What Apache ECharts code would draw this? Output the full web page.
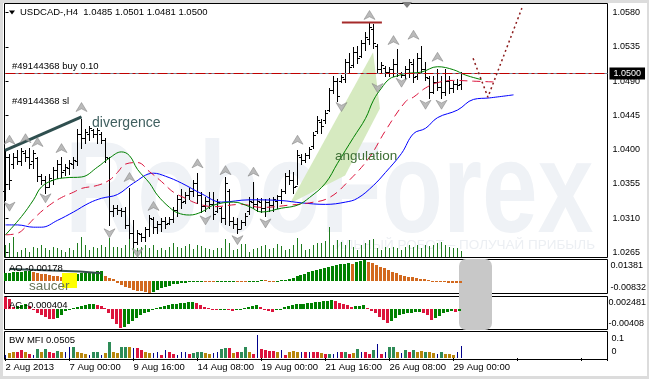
<!DOCTYPE html>
<html><head><meta charset="utf-8">
<script src="https://cdn.jsdelivr.net/npm/echarts@6/dist/echarts.min.js"></script>
<style>html,body{margin:0;padding:0;background:#fff;}#c{width:649px;height:379px;}</style>
</head><body><div id="c"></div>
<script>
// ---------- DATA ----------
const timeLabels = ['2 Aug 2013','7 Aug 00:00','9 Aug 16:00','14 Aug 08:00','19 Aug 00:00','21 Aug 16:00','26 Aug 08:00','29 Aug 00:00'];

const opens = [
1.0345,1.0390,1.0380,1.0390,1.0385,1.0395,1.0390,1.0385,1.0388,1.0365,
1.0360,1.0350,1.0360,1.0372,1.0380,1.0372,1.0375,1.0380,1.0385,1.0420,
1.0415,1.0420,1.0425,1.0420,1.0420,1.0412,1.0388,1.0318,1.0322,1.0320,
1.0318,1.0300,1.0290,1.0278,1.0288,1.0284,1.0295,1.0308,1.0298,1.0302,
1.0306,1.0303,1.0308,1.0320,1.0335,1.0332,1.0340,1.0345,1.0355,1.0340,
1.0325,1.0332,1.0328,1.0318,1.0322,1.0310,1.0345,1.0305,1.0302,1.0295,
1.0304,1.0318,1.0330,1.0328,1.0330,1.0322,1.0330,1.0326,1.0332,1.0338,
1.0345,1.0365,1.0360,1.0352,1.0390,1.0386,1.0392,1.0404,1.0424,1.0436,
1.0438,1.0452,1.0478,1.0490,1.0490,1.0492,1.0515,1.0510,1.0528,1.0522,
1.0540,1.0545,1.0558,1.0536,1.0505,1.0506,1.0502,1.0505,1.0512,1.0500,
1.0498,1.0505,1.0512,1.0496,1.0520,1.0505,1.0494,1.0475,1.0488,1.0482,
1.0475,1.0490,1.0480,1.0486,1.0485];
const highs = [
1.0399,1.0393,1.0395,1.0399,1.0402,1.0399,1.0402,1.0399,1.0389,1.0367,
1.0364,1.0367,1.0377,1.0386,1.0389,1.0380,1.0386,1.0389,1.0426,1.0439,
1.0426,1.0430,1.0426,1.0428,1.0422,1.0415,1.0389,1.0327,1.0327,1.0323,
1.0324,1.0349,1.0307,1.0294,1.0290,1.0297,1.0314,1.0311,1.0305,1.0310,
1.0311,1.0311,1.0324,1.0340,1.0347,1.0343,1.0349,1.0360,1.0369,1.0343,
1.0337,1.0343,1.0343,1.0334,1.0324,1.0363,1.0347,1.0311,1.0310,1.0307,
1.0316,1.0337,1.0357,1.0336,1.0336,1.0334,1.0336,1.0337,1.0340,1.0347,
1.0369,1.0373,1.0370,1.0399,1.0393,1.0395,1.0403,1.0422,1.0443,1.0439,
1.0452,1.0481,1.0496,1.0494,1.0498,1.0518,1.0527,1.0534,1.0535,1.0544,
1.0554,1.0567,1.0564,1.0538,1.0515,1.0509,1.0508,1.0518,1.0531,1.0502,
1.0509,1.0518,1.0518,1.0527,1.0535,1.0515,1.0496,1.0496,1.0505,1.0496,
1.0505,1.0496,1.0489,1.0492,1.0501];
const lows = [
1.0334,1.0349,1.0377,1.0382,1.0380,1.0386,1.0376,1.0377,1.0360,1.0356,
1.0344,1.0351,1.0356,1.0363,1.0364,1.0367,1.0369,1.0377,1.0380,1.0403,
1.0409,1.0413,1.0417,1.0410,1.0409,1.0384,1.0301,1.0314,1.0316,1.0314,
1.0297,1.0285,1.0272,1.0277,1.0281,1.0281,1.0287,1.0291,1.0291,1.0294,
1.0298,1.0303,1.0305,1.0314,1.0324,1.0330,1.0336,1.0340,1.0331,1.0318,
1.0320,1.0324,1.0310,1.0318,1.0305,1.0303,1.0301,1.0298,1.0291,1.0297,
1.0301,1.0316,1.0324,1.0320,1.0318,1.0314,1.0320,1.0320,1.0324,1.0330,
1.0343,1.0356,1.0343,1.0356,1.0382,1.0384,1.0390,1.0403,1.0422,1.0423,
1.0436,1.0452,1.0475,1.0465,1.0489,1.0489,1.0502,1.0509,1.0515,1.0522,
1.0531,1.0540,1.0534,1.0501,1.0501,1.0498,1.0498,1.0498,1.0498,1.0496,
1.0494,1.0496,1.0489,1.0494,1.0501,1.0492,1.0469,1.0475,1.0479,1.0469,
1.0472,1.0475,1.0476,1.0481,1.0481];
const closes = [
1.0390,1.0360,1.0390,1.0385,1.0398,1.0390,1.0380,1.0395,1.0365,1.0360,
1.0350,1.0362,1.0372,1.0380,1.0370,1.0376,1.0382,1.0386,1.0420,1.0415,
1.0422,1.0428,1.0420,1.0425,1.0412,1.0390,1.0318,1.0322,1.0320,1.0318,
1.0300,1.0290,1.0278,1.0290,1.0284,1.0295,1.0310,1.0298,1.0302,1.0306,
1.0302,1.0308,1.0320,1.0335,1.0330,1.0340,1.0345,1.0355,1.0340,1.0325,
1.0332,1.0328,1.0315,1.0330,1.0310,1.0355,1.0305,1.0302,1.0295,1.0304,
1.0312,1.0332,1.0328,1.0332,1.0322,1.0330,1.0326,1.0334,1.0338,1.0345,
1.0365,1.0360,1.0350,1.0392,1.0386,1.0392,1.0400,1.0418,1.0438,1.0430,
1.0448,1.0478,1.0490,1.0470,1.0495,1.0515,1.0508,1.0528,1.0520,1.0540,
1.0548,1.0560,1.0540,1.0505,1.0510,1.0502,1.0505,1.0512,1.0500,1.0498,
1.0505,1.0515,1.0495,1.0520,1.0505,1.0495,1.0475,1.0488,1.0482,1.0475,
1.0490,1.0480,1.0486,1.0484,1.0500];

const volumes = [
1200,1400,2000,500,700,900,500,1000,900,1200,
900,700,1000,900,700,500,900,700,1400,2000,
1200,700,1000,900,1200,1000,1900,1000,1000,900,
1200,1800,1100,900,1000,1200,900,1200,700,900,
700,1000,1400,1000,900,1100,1300,
800,1200,1100,900,800,700,900,900,
1800,
1400,700,800,1300,1300,500,800,
900,
1100,1200,800,900,1300,1100,700,800,1200,
1900,
1300,700,800,1200,1400,1400,1600,
3000,
1200,1700,1500,1200,1700,1000,700,1200,1400,1700,1800,900,700,1000,900,1000,900,700,1000,1200,1000,1200,900,1200,1100,1200,1400,1500,1200,1000,900,900,600];

// Alligator lines: [bar index, price]
const jawLine = [[0,1.0301],[3,1.0301],[7,1.0298],[9,1.0298],[13,1.0307],[17,1.0318],[21,1.0330],[24,1.0336],[28,1.0341],[32,1.0356],[37,1.0369],[40,1.0365],[44,1.0356],[49,1.0342],[54,1.0331],[61,1.0334],[69,1.0333],[74,1.0330],[80,1.0328],[85,1.0331],[88,1.0336],[92,1.0353],[95,1.0370],[99,1.0395],[102,1.0421],[105,1.0428],[108,1.0442],[113,1.0452],[117,1.0466],[121,1.0468],[127,1.0472]];
const teethLine = [[0,1.0288],[3,1.0290],[5,1.0298],[8,1.0314],[11,1.0327],[14,1.0337],[17,1.0344],[19,1.0349],[23,1.0353],[26,1.0360],[28,1.0370],[30,1.0381],[33,1.0383],[36,1.0371],[39,1.0358],[42,1.0344],[45,1.0336],[48,1.0329],[52,1.0325],[59,1.0328],[64,1.0324],[71,1.0327],[76,1.0330],[81,1.0337],[86,1.0360],[91,1.0390],[95,1.0425],[100,1.0463],[102,1.0469],[105,1.0481],[108,1.0488],[112,1.0491],[117,1.0490],[122,1.0489]];
const lipsLine = [[0,1.0288],[4,1.0312],[7,1.0334],[9,1.0351],[12,1.0360],[15,1.0363],[19,1.0364],[23,1.0377],[26,1.0389],[29,1.0397],[31,1.0392],[33,1.0374],[36,1.0356],[38,1.0340],[41,1.0324],[43,1.0317],[46,1.0314],[49,1.0318],[52,1.0327],[57,1.0331],[61,1.0325],[64,1.0318],[69,1.0323],[73,1.0327],[76,1.0337],[80,1.0356],[83,1.0382],[87,1.0416],[90,1.0441],[92,1.0465],[94,1.0481],[96,1.0493],[98,1.0497],[100,1.0500],[104,1.0502],[108,1.0509],[112,1.0505],[115,1.0498],[119,1.0492]];

// Fractals: [bar index, price of arrow]
const fractalsUp = [[1,1.0413],[5,1.0415],[8,1.0410],[14,1.0402],[19,1.0456],[31,1.0364],[37,1.0326],[48,1.0382],[55,1.0373],[62,1.0371],[73,1.0413],[91,1.0577],[97,1.0544],[102,1.0551],[108,1.0522]];
const fractalsDown = [[1,1.0325],[10,1.0336],[26,1.0290],[33,1.0264],[50,1.0307],[58,1.0281],[65,1.0303],[84,1.0456],[93,1.0481],[99,1.0488],[105,1.0459],[109,1.0459]];

// Order lines and annotations (prices)
const bidPrice = 1.0500, buyPrice = 1.0502, slPrice = 1.0454;
const priceAxis = {min:1.0265, max:1.0580, step:0.0045};
const divergenceLine = [[-0.1,1.0399],[19,1.0443]];
const highMarkLine = [[84.1,1.0567],[94.1,1.0567]];
const forecastLine = [[116.9,1.0520],[120.6,1.0469],[129.1,1.0586]];
const angulationZone = [[71.1,1.0329],[91.9,1.0528],[93.6,1.0454],[84.9,1.0366]];

const aoValues = [
0.0052,0.0054,0.0056,0.0058,0.0060,0.0061,0.0062,0.0057,0.0052,0.0047,
0.0042,0.0038,0.0034,0.0030,0.0027,0.0029,0.0033,0.0038,0.0043,0.0048,
0.0052,0.0056,0.0059,0.0062,0.0064,0.0033,0.0019,0.0008,-0.0018,-0.0030,
-0.0041,-0.0052,-0.0060,-0.0067,-0.0073,-0.0078,-0.0083,-0.0074,-0.0063,-0.0052,
-0.0043,-0.0034,-0.0025,-0.0021,-0.0016,-0.0014,-0.0011,-0.0009,-0.0007,-0.0006,
-0.0008,-0.0010,-0.0011,-0.0009,-0.0007,-0.0005,-0.0003,-0.0002,-0.0004,-0.0005,
-0.0006,-0.0004,-0.0002,0.0000,0.0002,0.0001,-0.0001,-0.0002,0.0000,0.0003,
0.0007,0.0011,0.0019,0.0029,0.0038,0.0046,0.0056,0.0064,0.0071,0.0078,
0.0084,0.0091,0.0098,0.0105,0.0109,0.0113,0.0116,0.0114,0.0125,0.0133,
0.0138,0.0128,0.0118,0.0106,0.0094,0.0083,0.0071,0.0060,0.0049,0.0040,
0.0033,0.0027,0.0022,0.0018,0.0014,0.0009,0.0004,-0.0001,-0.0005,-0.0008,
-0.0011,-0.0013,-0.0015,-0.0017,-0.0018];
const aoTicks = [0.01381, 0, -0.00832];
const aoTickLabels = ['0.01381','0.00','-0.00832'];
const aoDivergence = [[1,0.0078],[18.6,0.0061],[24,0.0050]];

const acValues = [
0.0024,0.0021,0.0004,0.0006,0.0008,0.0009,0.0005,-0.0002,-0.0009,-0.0014,
-0.0018,-0.0021,-0.0022,-0.0019,-0.0014,-0.0004,0.0000,0.0002,0.0004,0.0006,
0.0008,0.0010,0.0011,0.0008,0.0005,0.0002,-0.0008,-0.0022,-0.0033,-0.0040,
-0.0038,-0.0032,-0.0025,-0.0019,-0.0014,-0.0010,-0.0006,-0.0003,0.0001,0.0004,
0.0006,0.0008,0.0010,0.0011,0.0012,0.0013,0.0014,0.0015,0.0012,0.0008,
0.0004,0.0002,-0.0001,-0.0003,-0.0001,0.0000,-0.0002,-0.0004,-0.0002,-0.0001,
0.0001,0.0003,0.0006,0.0008,0.0004,0.0000,-0.0004,-0.0006,-0.0003,0.0000,
0.0004,0.0006,0.0008,0.0009,0.0010,0.0011,0.0012,0.0013,0.0014,0.0015,
0.0016,0.0017,0.0018,0.0016,0.0013,0.0010,0.0007,0.0004,0.0005,0.0006,
0.0007,0.0001,-0.0004,-0.0010,-0.0017,-0.0024,-0.0030,-0.0025,-0.0019,-0.0014,
-0.0011,-0.0009,-0.0008,-0.0007,-0.0006,-0.0008,-0.0014,-0.0024,-0.0020,-0.0015,
-0.0010,-0.0007,-0.0005,-0.0007,-0.0004];
const acTicks = [0.002481, 0, -0.00408];
const acTickLabels = ['0.002481','0.00','-0.00408'];

const mfiValues = [
0.012,0.019,0.023,0.023,0.033,0.023,0.016,0.012,0.036,0.023,
0.036,0.023,0.019,0.030,0.023,0.023,0.045,0.046,0.023,0.019,
0.016,0.012,0.023,0.026,0.012,0.019,0.064,0.023,0.019,0.046,
0.046,0.046,0.040,0.040,0.033,0.023,0.019,0.019,0.023,0.012,
0.033,0.026,0.015,0.012,0.023,0.023,0.015,0.019,0.023,0.026,
0.019,0.016,0.019,0.026,0.037,0.040,0.040,0.019,0.023,0.026,
0.046,0.026,0.015,0.094,0.037,0.033,0.030,0.030,0.026,0.033,
0.012,0.026,0.029,0.023,0.023,0.026,0.023,0.023,0.023,0.019,
0.016,0.016,0.016,0.026,0.023,0.023,0.015,0.019,0.037,0.026,
0.023,0.016,0.033,0.056,0.016,0.023,0.046,0.044,0.023,0.019,
0.033,0.023,0.033,0.026,0.029,0.026,0.023,0.019,0.016,0.023,
0.016,0.016,0.014,0.023,0.0505];
// bar kinds: g = green, f = fade, k = fake, s = squat
const mfiKinds = [
'kffssfskgf','gssgfkkgff','fkggkfgffg','gfkssffkks','ksskkksggg','ffkkggsfsg',
'gfskssssfk','sfffkskssf','sgkksgsfgk','ssgkskggfk','gsgffgffkg','fffkk'].join('');
const mfiTicks = [0.1, 0];
const mfiTickLabels = ['0.1','0'];

// ---------- CHART ----------
const FONT = "'Liberation Sans', Arial, sans-serif";
const chart = echarts.init(document.getElementById('c'), null, {renderer:'canvas'});
const XMIN = 0, XMAX = 150.5;
const gridDefs = [
  {top:12.7, height:239.6}, {top:225, height:32}, {top:260, height:33}, {top:297, height:31}, {top:332, height:26}
];
const grid = gridDefs.map(g => ({left:5.5, right:41.5, top:g.top, height:g.height, containLabel:false, show:false}));

const xAxis = gridDefs.map((g, k) => ({
  type:'value', gridIndex:k, min:XMIN, max:XMAX, interval:16, show: k === 4,
  axisLine:{show:false}, splitLine:{show:false},
  axisTick:{show:true, length:3, lineStyle:{color:'#000'}},
  axisLabel:{show:true, margin:4, align:'left', fontSize:9.5, fontFamily:FONT, color:'#000', showMinLabel:true, showMaxLabel:true,
    formatter: v => { const q = v / 16; const r = Math.round(q); return (Math.abs(q - r) < 1e-6 && r < timeLabels.length) ? timeLabels[r] : ''; }}
}));

function richFor(topPad, botPad) {
  const base = {fontSize:9, fontFamily:FONT, color:'#000'};
  return {t:Object.assign({padding:[topPad,0,0,0]}, base), b:Object.assign({padding:[0,0,botPad,0]}, base), m:Object.assign({}, base)};
}
function subFormatter(ticks, labels) {
  return v => {
    for (let j = 0; j < ticks.length; j++) {
      if (Math.abs(v - ticks[j]) < 1e-7) {
        const key = j === 0 ? 't' : (j === ticks.length - 1 ? 'b' : 'm');
        return '{' + key + '|' + labels[j] + '}';
      }
    }
    return '';
  };
}
const yAxis = [
  {type:'value', gridIndex:0, position:'right', min:priceAxis.min, max:priceAxis.max, interval:priceAxis.step,
   axisLine:{show:false}, splitLine:{show:false}, axisTick:{show:true, length:3, lineStyle:{color:'#000'}},
   axisLabel:{margin:5, fontSize:9, fontFamily:FONT, color:'#000', showMinLabel:true, showMaxLabel:true, formatter:v => v.toFixed(4)}},
  {type:'value', gridIndex:1, min:0, max:3200, show:false},
  {type:'value', gridIndex:2, position:'right', min:-0.00832, max:0.01381, interval:0.00832,
   axisLine:{show:false}, splitLine:{show:false}, axisTick:{show:false},
   axisLabel:{margin:4, showMinLabel:true, showMaxLabel:true, formatter:subFormatter(aoTicks, aoTickLabels), rich:richFor(12, 11)}},
  {type:'value', gridIndex:3, position:'right', min:-0.00408, max:0.002481, interval:0.00408,
   axisLine:{show:false}, splitLine:{show:false}, axisTick:{show:false},
   axisLabel:{margin:4, showMinLabel:true, showMaxLabel:true, formatter:subFormatter(acTicks, acTickLabels), rich:richFor(12, 9)}},
  {type:'value', gridIndex:4, position:'right', min:0, max:0.1066, interval:0.1,
   axisLine:{show:false}, splitLine:{show:false}, axisTick:{show:false},
   axisLabel:{margin:4, showMinLabel:true, showMaxLabel:true, formatter:subFormatter(mfiTicks, mfiTickLabels), rich:richFor(9, 12)}}
];

const crisp = v => Math.round(v - 0.5) + 0.5;

function renderOHLC(params, api) {
  const i = api.value(0);
  const pO = api.coord([i, api.value(1)]), pH = api.coord([i, api.value(2)]);
  const pL = api.coord([i, api.value(3)]), pC = api.coord([i, api.value(4)]);
  const x = crisp(pO[0]);
  const yo = crisp(pO[1]), yc = crisp(pC[1]);
  const st = {stroke:'#000', lineWidth:1};
  return {type:'group', children:[
    {type:'line', shape:{x1:x, y1:Math.floor(pH[1]), x2:x, y2:Math.ceil(pL[1]) + 1}, style:st},
    {type:'line', shape:{x1:x - 2.5, y1:yo, x2:x, y2:yo}, style:st},
    {type:'line', shape:{x1:x, y1:yc, x2:x + 2.5, y2:yc}, style:st}
  ]};
}
function renderVolume(params, api) {
  const i = api.value(0);
  const p0 = api.coord([i, 0]), p1 = api.coord([i, api.value(1)]);
  const x = crisp(p0[0]);
  return {type:'line', shape:{x1:x, y1:p0[1], x2:x, y2:Math.round(p1[1])}, style:{stroke:'#1e7b1e', lineWidth:1}};
}
function histRenderer(values, upColor, downColor) {
  return function(params, api) {
    const idx = params.dataIndex;
    const i = api.value(0), v = api.value(1);
    const ref = idx > 0 ? values[idx - 1] : null;
    const up = ref === null ? values[1] > values[0] : v > ref;
    const p0 = api.coord([i, 0]), p1 = api.coord([i, v]);
    const x = Math.round(p0[0] - 1.5);
    const y0 = Math.round(p0[1]), y1 = Math.round(p1[1]);
    const top = Math.min(y0, y1), h = Math.max(1, Math.abs(y0 - y1));
    return {type:'rect', shape:{x:x, y:top, width:3, height:h}, style:{fill: up ? upColor : downColor}};
  };
}
const mfiColors = {g:'#2e8b57', f:'#b8860b', s:'#dc143c', k:'#00008b'};
function renderMFI(params, api) {
  const idx = params.dataIndex;
  const i = api.value(0), v = api.value(1);
  const kind = mfiKinds[idx];
  const p0 = api.coord([i, 0]), p1 = api.coord([i, v]);
  const y0 = Math.round(p0[1]), y1 = Math.round(p1[1]);
  if (kind === 'k') {
    const x = crisp(p0[0]);
    return {type:'line', shape:{x1:x, y1:y0, x2:x, y2:y1}, style:{stroke:mfiColors.k, lineWidth:1}};
  }
  return {type:'rect', shape:{x:Math.round(p0[0] - 1.5), y:y1, width:3, height:Math.max(1, y0 - y1)}, style:{fill:mfiColors[kind]}};
}
function renderZone(params, api) {
  return {type:'polygon', shape:{points: angulationZone.map(p => api.coord(p))}, style:{fill:'rgb(214,234,192)'}};
}

const ohlcData = opens.map((o, i) => [i, o, highs[i], lows[i], closes[i]]);
const idxPairs = arr => arr.map((v, i) => [i, v]);

const arrowPath = 'path://M6,0 L12,10 L6,7 L0,10 Z';

const series = [
  {type:'custom', xAxisIndex:0, yAxisIndex:0, data:[[0]], renderItem:renderZone, z:1, silent:true},
  {type:'custom', xAxisIndex:1, yAxisIndex:1, data:idxPairs(volumes), renderItem:renderVolume, z:2},
  {type:'custom', xAxisIndex:0, yAxisIndex:0, data:ohlcData, renderItem:renderOHLC, z:3},
  {type:'line', xAxisIndex:0, yAxisIndex:0, data:jawLine, smooth:0.4, showSymbol:false, lineStyle:{color:'#0000ff', width:1}, z:4, clip:false,
   markLine:{symbol:'none', silent:true, animation:false, data:[
     {yAxis:buyPrice, lineStyle:{color:'#008000', width:1, type:[10,3,3,3]}, label:{show:false}},
     {yAxis:bidPrice, lineStyle:{color:'#778899', width:1, type:'solid'},
      label:{show:true, position:'end', distance:2, formatter:'1.0500', color:'#fff', backgroundColor:'#000', padding:[2,4,1,4], fontSize:9, fontFamily:FONT}},
     {yAxis:slPrice, lineStyle:{color:'#c00000', width:1, type:[10,3,3,3]}, label:{show:false}}
   ]}},
  {type:'line', xAxisIndex:0, yAxisIndex:0, data:teethLine, smooth:0.4, showSymbol:false, lineStyle:{color:'#dc143c', width:1, type:[8,5]}, z:4, clip:false},
  {type:'line', xAxisIndex:0, yAxisIndex:0, data:lipsLine, smooth:0.4, showSymbol:false, lineStyle:{color:'#008000', width:1}, z:4, clip:false},
  {type:'line', xAxisIndex:0, yAxisIndex:0, data:divergenceLine, showSymbol:false, lineStyle:{color:'#2f4f4f', width:3}, z:5, clip:false},
  {type:'line', xAxisIndex:0, yAxisIndex:0, data:highMarkLine, showSymbol:false, lineStyle:{color:'#a52a2a', width:2}, z:5, clip:false},
  {type:'line', xAxisIndex:0, yAxisIndex:0, data:forecastLine, showSymbol:false, lineStyle:{color:'#8b1a1a', width:1.5, type:[2,3]}, z:5, clip:false},
  {type:'scatter', xAxisIndex:0, yAxisIndex:0, data:fractalsUp, symbol:arrowPath, symbolSize:[11,9],
   itemStyle:{color:'#a9a9a9', borderColor:'#7a7a7a', borderWidth:0.6}, z:6, clip:false},
  {type:'scatter', xAxisIndex:0, yAxisIndex:0, data:fractalsDown, symbol:arrowPath, symbolSize:[11,9], symbolRotate:180,
   itemStyle:{color:'#a9a9a9', borderColor:'#7a7a7a', borderWidth:0.6}, z:6, clip:false},
  {type:'custom', xAxisIndex:2, yAxisIndex:2, data:idxPairs(aoValues), renderItem:histRenderer(aoValues, '#008000', '#d2691e'), z:3},
  {type:'line', xAxisIndex:2, yAxisIndex:2, data:aoDivergence, showSymbol:false, lineStyle:{color:'#36504f', width:2}, z:12, clip:false},
  {type:'custom', xAxisIndex:3, yAxisIndex:3, data:idxPairs(acValues), renderItem:histRenderer(acValues, '#008000', '#dc143c'), z:3},
  {type:'custom', xAxisIndex:4, yAxisIndex:4, data:idxPairs(mfiValues), renderItem:renderMFI, z:3}
];

const txt = (text, x, y, size, color, extra) => Object.assign({type:'text', z:20, silent:true,
  style:{text:text, x:x, y:y, fontSize:size, fontFamily:FONT, fill:color, align:'left', verticalAlign:'middle'}}, extra || {});
const paneRect = (y1, y2) => ({type:'rect', z:1, silent:true, shape:{x:4.5, y:y1, width:603, height:y2 - y1}, style:{fill:null, stroke:'#000', lineWidth:1}});

const graphic = [
  // watermark
  {type:'text', z:0, silent:true, x:65, y:196, scaleX:0.77,
   style:{text:'RoboForex', x:0, y:0, fontSize:130, fontWeight:'bold', fontFamily:FONT, fill:'#eff2f6', align:'left', verticalAlign:'middle'}},
  {type:'text', z:0, silent:true, style:{text:'ИЛЬНЫЙ РОБОТ – ПОЛУЧАЙ ПРИБЫЛЬ', x:595, y:245, fontSize:13.5, fontFamily:FONT, fill:'#eceff3', align:'right', verticalAlign:'middle'}},
  // window frame
  {type:'rect', z:0, silent:true, shape:{x:0, y:0, width:649, height:3}, style:{fill:'#dcdcdc'}},
  {type:'rect', z:0, silent:true, shape:{x:0, y:0, width:3, height:379}, style:{fill:'#dcdcdc'}},
  {type:'rect', z:0, silent:true, shape:{x:0, y:376, width:649, height:3}, style:{fill:'#dcdcdc'}},
  {type:'rect', z:0, silent:true, shape:{x:647, y:0, width:2, height:379}, style:{fill:'#dcdcdc'}},
  paneRect(3.5, 257.5), paneRect(259.5, 293.5), paneRect(296.5, 329.5), paneRect(331.5, 359.5),
  // grey overlay box in sub windows
  {type:'rect', z:1.5, silent:true, shape:{x:459, y:259, width:33, height:71, r:7}, style:{fill:'#c8c8c8'}},
  // chart shift marker & title
  {type:'polygon', z:20, silent:true, shape:{points:[[402,2],[412,2],[407,8]]}, style:{fill:'#808080'}},
  {type:'polygon', z:20, silent:true, shape:{points:[[9,10.5],[15,10.5],[12,14.5]]}, style:{fill:'#000'}},
  txt('USDCAD-,H4  1.0485 1.0501 1.0481 1.0500', 20, 12.5, 9.5, '#000'),
  txt('#49144368 buy 0.10', 12, 66.5, 9.5, '#000'),
  txt('#49144368 sl', 12, 101.5, 9.5, '#000'),
  txt('divergence', 92, 123, 14, '#3f5f5f'),
  txt('angulation', 335, 156, 13.5, '#3c6e34'),
  // saucer highlight
  {type:'rect', z:10, silent:true, shape:{x:62, y:273, width:15, height:15}, style:{fill:'#ffff00'}},
  txt('saucer', 29, 286, 13.5, '#687458'),
  txt('AO -0.00178', 9, 268.5, 9.5, '#000'),
  txt('AC -0.000404', 9, 305.5, 9.5, '#000'),
  txt('BW MFI 0.0505', 9, 340, 9.5, '#000')
];

chart.setOption({
  animation:false,
  backgroundColor:'#ffffff',
  textStyle:{fontFamily:FONT},
  grid:grid, xAxis:xAxis, yAxis:yAxis, series:series, graphic:graphic
});
</script>
</body></html>
